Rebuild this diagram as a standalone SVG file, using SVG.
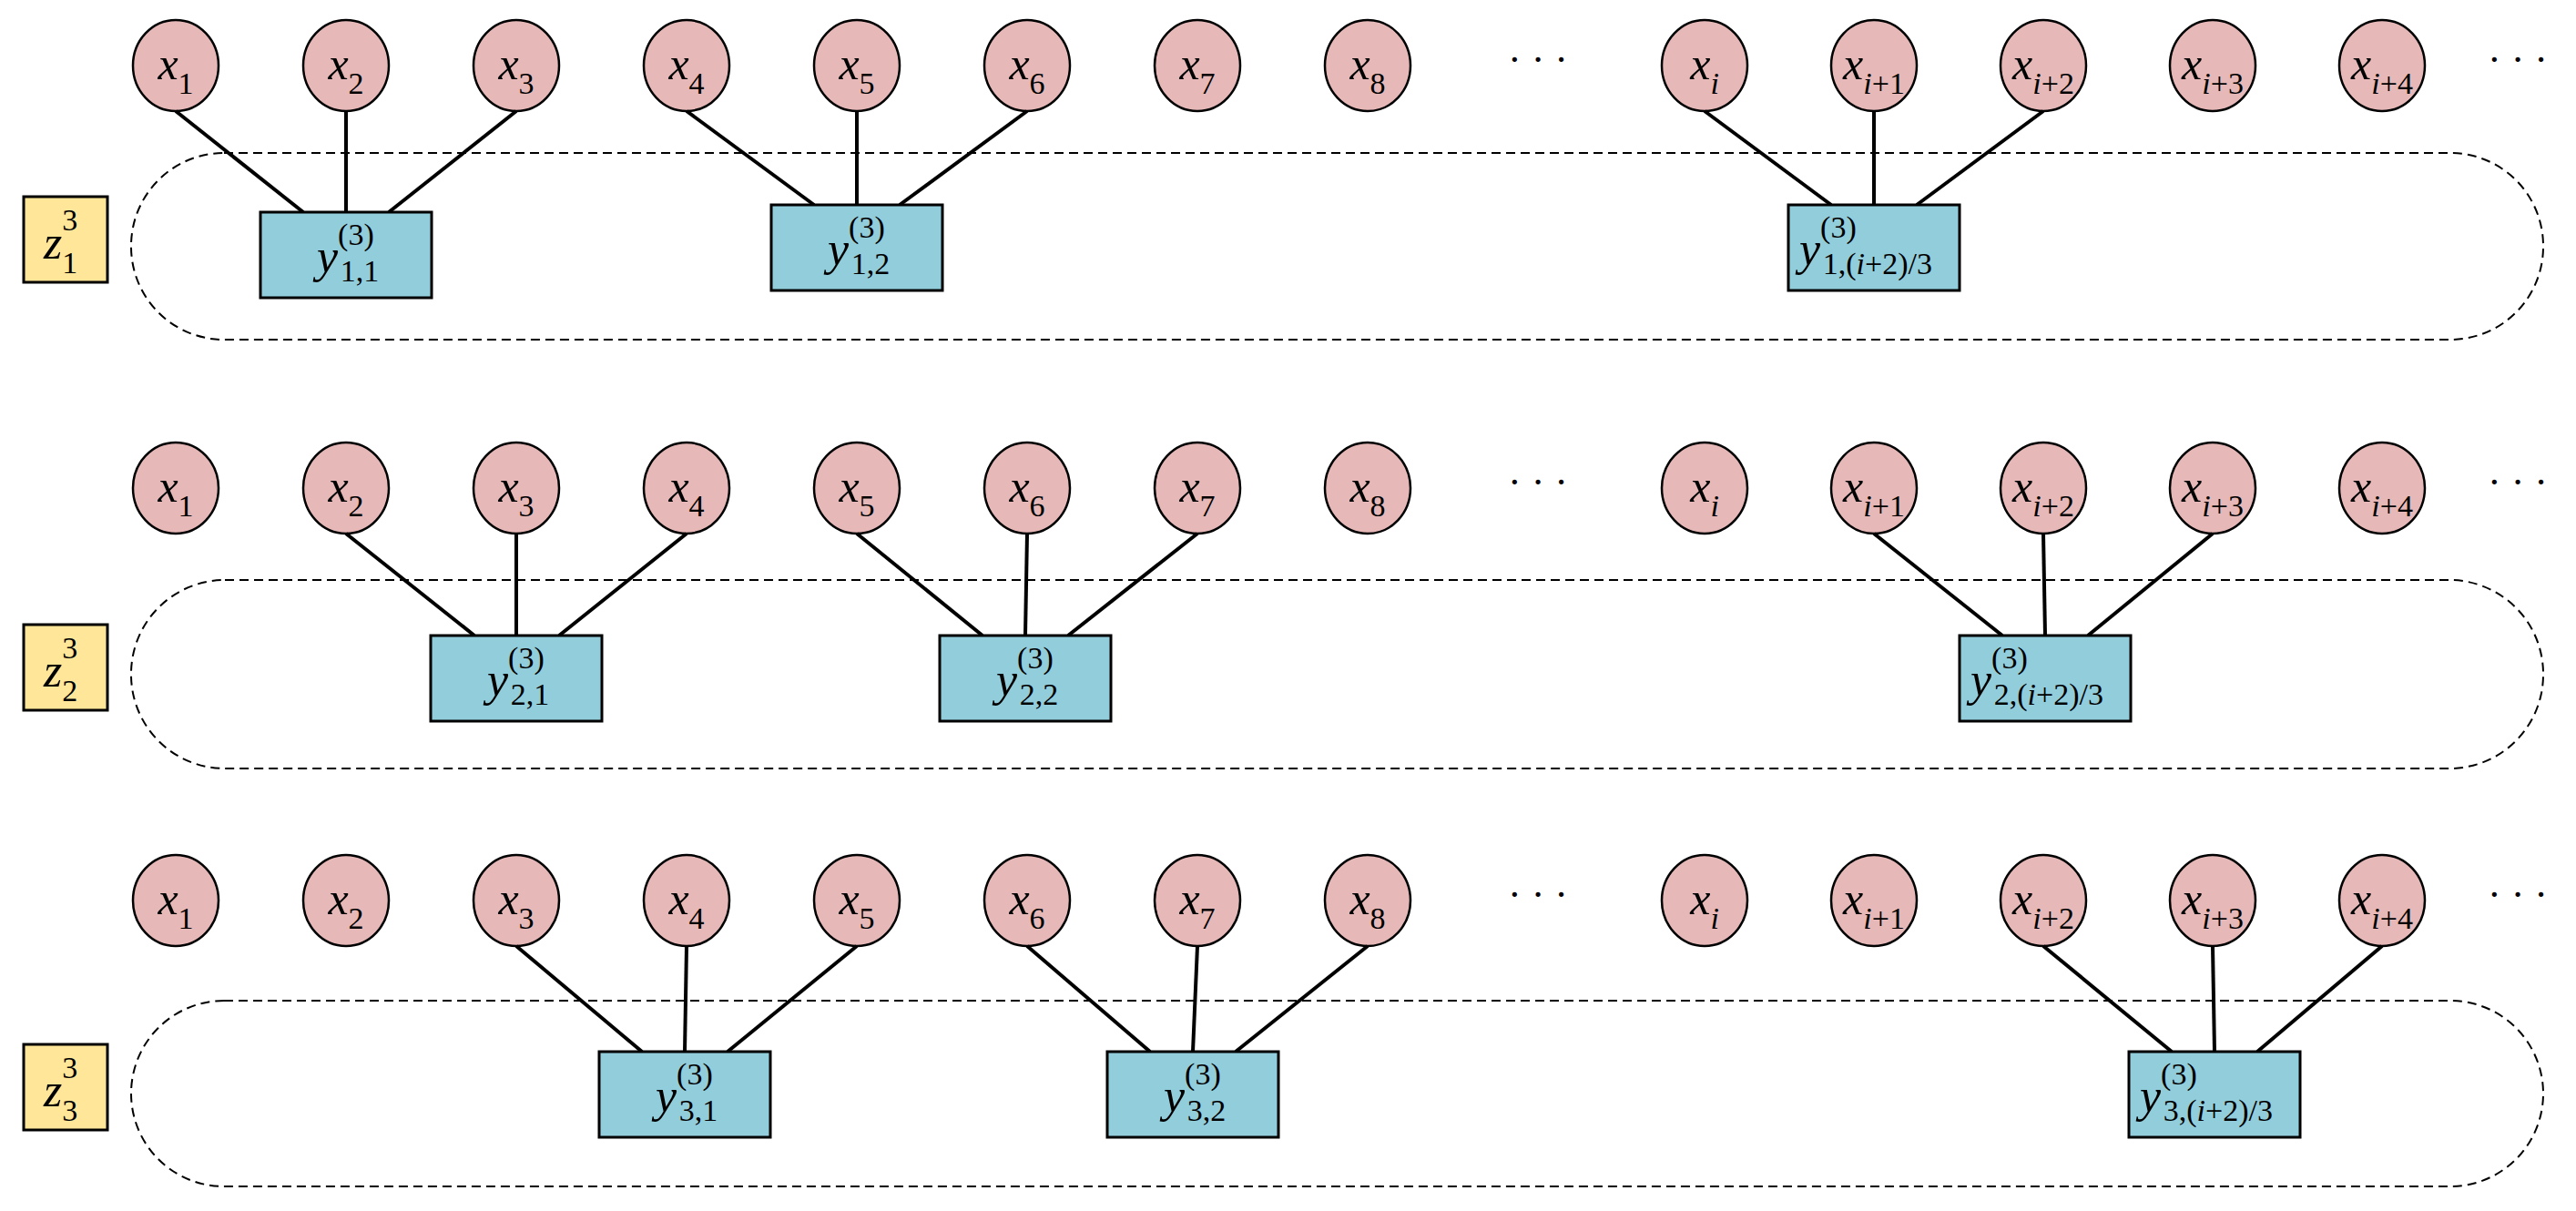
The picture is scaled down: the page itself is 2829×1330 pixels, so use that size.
<svg xmlns="http://www.w3.org/2000/svg" width="2829" height="1330" viewBox="0 0 2829 1330">
<style>
.n ellipse{fill:#E6B9B8;stroke:#000;stroke-width:2.5}
.b rect{fill:#92CDDC;stroke:#000;stroke-width:3}
.z rect{fill:#FFE699;stroke:#000;stroke-width:3}
.plate{fill:none;stroke:#000;stroke-width:2;stroke-dasharray:10 6}
.c line{stroke:#000;stroke-width:4}
text{font-family:"Liberation Serif","Times New Roman",serif;fill:#000}
.xl{font-size:50px;text-anchor:middle}
.it{font-style:italic}
.s{font-size:34px}
.dots{font-size:44px;text-anchor:middle}
</style>
<rect width="2829" height="1330" fill="#fff"/>
<rect class="plate" x="144" y="168" width="2649" height="205" rx="102"/>
<rect class="plate" x="144" y="637" width="2649" height="207" rx="103"/>
<rect class="plate" x="144" y="1099" width="2649" height="204" rx="102"/>
<g id="row1-nodes">
<g id="r1x1" class="n"><ellipse cx="193" cy="72" rx="47" ry="50"/><text class="xl" x="193" y="87"><tspan class="it">x</tspan><tspan class="s" dy="16">1</tspan></text></g>
<g id="r1x2" class="n"><ellipse cx="380" cy="72" rx="47" ry="50"/><text class="xl" x="380" y="87"><tspan class="it">x</tspan><tspan class="s" dy="16">2</tspan></text></g>
<g id="r1x3" class="n"><ellipse cx="567" cy="72" rx="47" ry="50"/><text class="xl" x="567" y="87"><tspan class="it">x</tspan><tspan class="s" dy="16">3</tspan></text></g>
<g id="r1x4" class="n"><ellipse cx="754" cy="72" rx="47" ry="50"/><text class="xl" x="754" y="87"><tspan class="it">x</tspan><tspan class="s" dy="16">4</tspan></text></g>
<g id="r1x5" class="n"><ellipse cx="941" cy="72" rx="47" ry="50"/><text class="xl" x="941" y="87"><tspan class="it">x</tspan><tspan class="s" dy="16">5</tspan></text></g>
<g id="r1x6" class="n"><ellipse cx="1128" cy="72" rx="47" ry="50"/><text class="xl" x="1128" y="87"><tspan class="it">x</tspan><tspan class="s" dy="16">6</tspan></text></g>
<g id="r1x7" class="n"><ellipse cx="1315" cy="72" rx="47" ry="50"/><text class="xl" x="1315" y="87"><tspan class="it">x</tspan><tspan class="s" dy="16">7</tspan></text></g>
<g id="r1x8" class="n"><ellipse cx="1502" cy="72" rx="47" ry="50"/><text class="xl" x="1502" y="87"><tspan class="it">x</tspan><tspan class="s" dy="16">8</tspan></text></g>
<text class="dots" x="1689" y="80">· · ·</text>
<g id="r1xi" class="n"><ellipse cx="1872" cy="72" rx="47" ry="50"/><text class="xl" x="1872" y="87"><tspan class="it">x</tspan><tspan class="s it" dy="16">i</tspan></text></g>
<g id="r1xi1" class="n"><ellipse cx="2058" cy="72" rx="47" ry="50"/><text class="xl" x="2058" y="87"><tspan class="it">x</tspan><tspan class="s" dy="16"><tspan class="it">i</tspan>+1</tspan></text></g>
<g id="r1xi2" class="n"><ellipse cx="2244" cy="72" rx="47" ry="50"/><text class="xl" x="2244" y="87"><tspan class="it">x</tspan><tspan class="s" dy="16"><tspan class="it">i</tspan>+2</tspan></text></g>
<g id="r1xi3" class="n"><ellipse cx="2430" cy="72" rx="47" ry="50"/><text class="xl" x="2430" y="87"><tspan class="it">x</tspan><tspan class="s" dy="16"><tspan class="it">i</tspan>+3</tspan></text></g>
<g id="r1xi4" class="n"><ellipse cx="2616" cy="72" rx="47" ry="50"/><text class="xl" x="2616" y="87"><tspan class="it">x</tspan><tspan class="s" dy="16"><tspan class="it">i</tspan>+4</tspan></text></g>
<text class="dots" x="2765" y="80">· · ·</text>
</g>
<g id="row2-nodes">
<g id="r2x1" class="n"><ellipse cx="193" cy="536" rx="47" ry="50"/><text class="xl" x="193" y="551"><tspan class="it">x</tspan><tspan class="s" dy="16">1</tspan></text></g>
<g id="r2x2" class="n"><ellipse cx="380" cy="536" rx="47" ry="50"/><text class="xl" x="380" y="551"><tspan class="it">x</tspan><tspan class="s" dy="16">2</tspan></text></g>
<g id="r2x3" class="n"><ellipse cx="567" cy="536" rx="47" ry="50"/><text class="xl" x="567" y="551"><tspan class="it">x</tspan><tspan class="s" dy="16">3</tspan></text></g>
<g id="r2x4" class="n"><ellipse cx="754" cy="536" rx="47" ry="50"/><text class="xl" x="754" y="551"><tspan class="it">x</tspan><tspan class="s" dy="16">4</tspan></text></g>
<g id="r2x5" class="n"><ellipse cx="941" cy="536" rx="47" ry="50"/><text class="xl" x="941" y="551"><tspan class="it">x</tspan><tspan class="s" dy="16">5</tspan></text></g>
<g id="r2x6" class="n"><ellipse cx="1128" cy="536" rx="47" ry="50"/><text class="xl" x="1128" y="551"><tspan class="it">x</tspan><tspan class="s" dy="16">6</tspan></text></g>
<g id="r2x7" class="n"><ellipse cx="1315" cy="536" rx="47" ry="50"/><text class="xl" x="1315" y="551"><tspan class="it">x</tspan><tspan class="s" dy="16">7</tspan></text></g>
<g id="r2x8" class="n"><ellipse cx="1502" cy="536" rx="47" ry="50"/><text class="xl" x="1502" y="551"><tspan class="it">x</tspan><tspan class="s" dy="16">8</tspan></text></g>
<text class="dots" x="1689" y="544">· · ·</text>
<g id="r2xi" class="n"><ellipse cx="1872" cy="536" rx="47" ry="50"/><text class="xl" x="1872" y="551"><tspan class="it">x</tspan><tspan class="s it" dy="16">i</tspan></text></g>
<g id="r2xi1" class="n"><ellipse cx="2058" cy="536" rx="47" ry="50"/><text class="xl" x="2058" y="551"><tspan class="it">x</tspan><tspan class="s" dy="16"><tspan class="it">i</tspan>+1</tspan></text></g>
<g id="r2xi2" class="n"><ellipse cx="2244" cy="536" rx="47" ry="50"/><text class="xl" x="2244" y="551"><tspan class="it">x</tspan><tspan class="s" dy="16"><tspan class="it">i</tspan>+2</tspan></text></g>
<g id="r2xi3" class="n"><ellipse cx="2430" cy="536" rx="47" ry="50"/><text class="xl" x="2430" y="551"><tspan class="it">x</tspan><tspan class="s" dy="16"><tspan class="it">i</tspan>+3</tspan></text></g>
<g id="r2xi4" class="n"><ellipse cx="2616" cy="536" rx="47" ry="50"/><text class="xl" x="2616" y="551"><tspan class="it">x</tspan><tspan class="s" dy="16"><tspan class="it">i</tspan>+4</tspan></text></g>
<text class="dots" x="2765" y="544">· · ·</text>
</g>
<g id="row3-nodes">
<g id="r3x1" class="n"><ellipse cx="193" cy="989" rx="47" ry="50"/><text class="xl" x="193" y="1004"><tspan class="it">x</tspan><tspan class="s" dy="16">1</tspan></text></g>
<g id="r3x2" class="n"><ellipse cx="380" cy="989" rx="47" ry="50"/><text class="xl" x="380" y="1004"><tspan class="it">x</tspan><tspan class="s" dy="16">2</tspan></text></g>
<g id="r3x3" class="n"><ellipse cx="567" cy="989" rx="47" ry="50"/><text class="xl" x="567" y="1004"><tspan class="it">x</tspan><tspan class="s" dy="16">3</tspan></text></g>
<g id="r3x4" class="n"><ellipse cx="754" cy="989" rx="47" ry="50"/><text class="xl" x="754" y="1004"><tspan class="it">x</tspan><tspan class="s" dy="16">4</tspan></text></g>
<g id="r3x5" class="n"><ellipse cx="941" cy="989" rx="47" ry="50"/><text class="xl" x="941" y="1004"><tspan class="it">x</tspan><tspan class="s" dy="16">5</tspan></text></g>
<g id="r3x6" class="n"><ellipse cx="1128" cy="989" rx="47" ry="50"/><text class="xl" x="1128" y="1004"><tspan class="it">x</tspan><tspan class="s" dy="16">6</tspan></text></g>
<g id="r3x7" class="n"><ellipse cx="1315" cy="989" rx="47" ry="50"/><text class="xl" x="1315" y="1004"><tspan class="it">x</tspan><tspan class="s" dy="16">7</tspan></text></g>
<g id="r3x8" class="n"><ellipse cx="1502" cy="989" rx="47" ry="50"/><text class="xl" x="1502" y="1004"><tspan class="it">x</tspan><tspan class="s" dy="16">8</tspan></text></g>
<text class="dots" x="1689" y="997">· · ·</text>
<g id="r3xi" class="n"><ellipse cx="1872" cy="989" rx="47" ry="50"/><text class="xl" x="1872" y="1004"><tspan class="it">x</tspan><tspan class="s it" dy="16">i</tspan></text></g>
<g id="r3xi1" class="n"><ellipse cx="2058" cy="989" rx="47" ry="50"/><text class="xl" x="2058" y="1004"><tspan class="it">x</tspan><tspan class="s" dy="16"><tspan class="it">i</tspan>+1</tspan></text></g>
<g id="r3xi2" class="n"><ellipse cx="2244" cy="989" rx="47" ry="50"/><text class="xl" x="2244" y="1004"><tspan class="it">x</tspan><tspan class="s" dy="16"><tspan class="it">i</tspan>+2</tspan></text></g>
<g id="r3xi3" class="n"><ellipse cx="2430" cy="989" rx="47" ry="50"/><text class="xl" x="2430" y="1004"><tspan class="it">x</tspan><tspan class="s" dy="16"><tspan class="it">i</tspan>+3</tspan></text></g>
<g id="r3xi4" class="n"><ellipse cx="2616" cy="989" rx="47" ry="50"/><text class="xl" x="2616" y="1004"><tspan class="it">x</tspan><tspan class="s" dy="16"><tspan class="it">i</tspan>+4</tspan></text></g>
<text class="dots" x="2765" y="997">· · ·</text>
</g>
<g id="connectors" class="c">
<line x1="193" y1="122" x2="333" y2="233"/><line x1="380" y1="122" x2="380" y2="233"/><line x1="567" y1="122" x2="427" y2="233"/>
<line x1="754" y1="122" x2="894" y2="225"/><line x1="941" y1="122" x2="941" y2="225"/><line x1="1128" y1="122" x2="988" y2="225"/>
<line x1="1872" y1="122" x2="2011" y2="225"/><line x1="2058" y1="122" x2="2058" y2="225"/><line x1="2244" y1="122" x2="2105" y2="225"/>
<line x1="380" y1="586" x2="521" y2="698"/><line x1="567" y1="586" x2="567" y2="698"/><line x1="754" y1="586" x2="614" y2="698"/>
<line x1="941" y1="586" x2="1079" y2="698"/><line x1="1128" y1="586" x2="1126" y2="698"/><line x1="1315" y1="586" x2="1173" y2="698"/>
<line x1="2058" y1="586" x2="2199" y2="698"/><line x1="2244" y1="586" x2="2246" y2="698"/><line x1="2430" y1="586" x2="2293" y2="698"/>
<line x1="567" y1="1039" x2="705" y2="1155"/><line x1="754" y1="1039" x2="752" y2="1155"/><line x1="941" y1="1039" x2="799" y2="1155"/>
<line x1="1128" y1="1039" x2="1263" y2="1155"/><line x1="1315" y1="1039" x2="1310" y2="1155"/><line x1="1502" y1="1039" x2="1357" y2="1155"/>
<line x1="2244" y1="1039" x2="2385" y2="1155"/><line x1="2430" y1="1039" x2="2432" y2="1155"/><line x1="2616" y1="1039" x2="2479" y2="1155"/>
</g>
<g id="y11" class="b"><rect x="286" y="233" width="188" height="94"/><text x="348" y="299"><tspan class="it" font-size="52">y</tspan><tspan class="s" dy="-30">(3)</tspan><tspan class="s" dx="-37" dy="40">1,1</tspan></text></g>
<g id="y12" class="b"><rect x="847" y="225" width="188" height="94"/><text x="909" y="291"><tspan class="it" font-size="52">y</tspan><tspan class="s" dy="-30">(3)</tspan><tspan class="s" dx="-37" dy="40">1,2</tspan></text></g>
<g id="y13" class="b"><rect x="1964" y="225" width="188" height="94"/><text x="1976" y="291"><tspan class="it" font-size="52">y</tspan><tspan class="s" dy="-30">(3)</tspan><tspan class="s" dx="-37" dy="40">1,(<tspan class="it">i</tspan>+2)/3</tspan></text></g>
<g id="y21" class="b"><rect x="473" y="698" width="188" height="94"/><text x="535" y="764"><tspan class="it" font-size="52">y</tspan><tspan class="s" dy="-30">(3)</tspan><tspan class="s" dx="-37" dy="40">2,1</tspan></text></g>
<g id="y22" class="b"><rect x="1032" y="698" width="188" height="94"/><text x="1094" y="764"><tspan class="it" font-size="52">y</tspan><tspan class="s" dy="-30">(3)</tspan><tspan class="s" dx="-37" dy="40">2,2</tspan></text></g>
<g id="y23" class="b"><rect x="2152" y="698" width="188" height="94"/><text x="2164" y="764"><tspan class="it" font-size="52">y</tspan><tspan class="s" dy="-30">(3)</tspan><tspan class="s" dx="-37" dy="40">2,(<tspan class="it">i</tspan>+2)/3</tspan></text></g>
<g id="y31" class="b"><rect x="658" y="1155" width="188" height="94"/><text x="720" y="1221"><tspan class="it" font-size="52">y</tspan><tspan class="s" dy="-30">(3)</tspan><tspan class="s" dx="-37" dy="40">3,1</tspan></text></g>
<g id="y32" class="b"><rect x="1216" y="1155" width="188" height="94"/><text x="1278" y="1221"><tspan class="it" font-size="52">y</tspan><tspan class="s" dy="-30">(3)</tspan><tspan class="s" dx="-37" dy="40">3,2</tspan></text></g>
<g id="y33" class="b"><rect x="2338" y="1155" width="188" height="94"/><text x="2350" y="1221"><tspan class="it" font-size="52">y</tspan><tspan class="s" dy="-30">(3)</tspan><tspan class="s" dx="-37" dy="40">3,(<tspan class="it">i</tspan>+2)/3</tspan></text></g>
<g id="z1" class="z"><rect x="26" y="216" width="92" height="94"/><text x="48" y="284"><tspan class="it" font-size="52">z</tspan><tspan class="s" dy="-31">3</tspan><tspan class="s" dx="-17" dy="47">1</tspan></text></g>
<g id="z2" class="z"><rect x="26" y="686" width="92" height="94"/><text x="48" y="754"><tspan class="it" font-size="52">z</tspan><tspan class="s" dy="-31">3</tspan><tspan class="s" dx="-17" dy="47">2</tspan></text></g>
<g id="z3" class="z"><rect x="26" y="1147" width="92" height="94"/><text x="48" y="1215"><tspan class="it" font-size="52">z</tspan><tspan class="s" dy="-31">3</tspan><tspan class="s" dx="-17" dy="47">3</tspan></text></g>
</svg>
